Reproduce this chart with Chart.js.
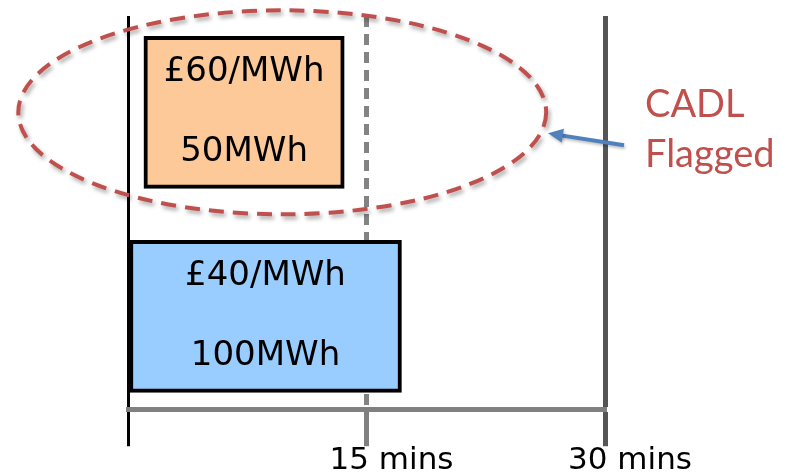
<!DOCTYPE html>
<html>
<head>
<meta charset="utf-8">
<script src="https://cdn.jsdelivr.net/npm/chart.js@4"></script>
<style>
  html, body { margin: 0; padding: 0; background: #fff; }
  #wrap { width: 788px; height: 475px; }
</style>
</head>
<body>
<div id="wrap"><canvas id="cadlChart" width="788" height="475"></canvas></div>
<script>
// offers in the stack, row 0 is the top one
const rows = [0, 1];
const prices = ["£60/MWh", "£40/MWh"];
const volumes = ["50MWh", "100MWh"];
// start / end of each offer along the time axis, in minutes
const startMins = [1, 0];
const endMins = [13.6, 17.2];
const fills = ["#FDC998", "#99CCFF"];

// time axis ticks
const tickMinutes = [0, 15, 30];
const tickLabels = ["", "15 mins", "30 mins"];

const noteLines = ["CADL", "Flagged"];

const offerText = {
  id: "offerText",
  afterDatasetsDraw(chart) {
    const ctx = chart.ctx;
    const meta = chart.getDatasetMeta(0);
    ctx.save();
    ctx.font = "34px 'DejaVu Sans'";
    ctx.fillStyle = "#000";
    ctx.textAlign = "center";
    ctx.textBaseline = "middle";
    meta.data.forEach((bar, i) => {
      const p = bar.getProps(["x", "y", "base", "height"], true);
      const cx = (p.x + p.base) / 2;
      const top = p.y - p.height / 2;
      const bottom = p.y + p.height / 2;
      ctx.fillText(prices[i], cx, top + 36);
      ctx.fillText(volumes[i], cx, bottom - 36);
    });
    ctx.restore();
  }
};

const cadlNote = {
  id: "cadlNote",
  afterDraw(chart) {
    const ctx = chart.ctx;
    const xs = chart.scales.x;
    const bar = chart.getDatasetMeta(0).data[0];
    const cy = bar.y;
    const left = xs.getPixelForValue(-6.9);
    const right = xs.getPixelForValue(26.3);
    const cx = (left + right) / 2;
    const rx = (right - left) / 2;
    const ry = 102;

    ctx.save();
    ctx.shadowColor = "rgba(0,0,0,0.35)";
    ctx.shadowBlur = 4;
    ctx.shadowOffsetX = 2;
    ctx.shadowOffsetY = 3;
    ctx.strokeStyle = "#C0504D";
    ctx.lineWidth = 4;
    ctx.setLineDash([15, 9]);
    ctx.beginPath();
    ctx.ellipse(cx, cy, rx, ry, 0, 0, Math.PI * 2);
    ctx.stroke();
    ctx.restore();

    // arrow pointing at the ellipse
    const axisRight = chart.chartArea.right;
    const tail = { x: axisRight + 19, y: cy + 33 };
    const tip = { x: axisRight - 57, y: cy + 21 };
    const ang = Math.atan2(tip.y - tail.y, tip.x - tail.x);
    ctx.save();
    ctx.shadowColor = "rgba(0,0,0,0.25)";
    ctx.shadowBlur = 3;
    ctx.shadowOffsetX = 1;
    ctx.shadowOffsetY = 2;
    ctx.strokeStyle = "#4F81BD";
    ctx.fillStyle = "#4F81BD";
    ctx.lineWidth = 4;
    ctx.beginPath();
    ctx.moveTo(tail.x, tail.y);
    ctx.lineTo(tip.x - Math.cos(ang) * 10, tip.y - Math.sin(ang) * 10);
    ctx.stroke();
    ctx.beginPath();
    ctx.moveTo(tip.x, tip.y);
    ctx.lineTo(tip.x - Math.cos(ang) * 15 - Math.sin(ang) * 7, tip.y - Math.sin(ang) * 15 + Math.cos(ang) * 7);
    ctx.lineTo(tip.x - Math.cos(ang) * 15 + Math.sin(ang) * 7, tip.y - Math.sin(ang) * 15 - Math.cos(ang) * 7);
    ctx.closePath();
    ctx.fill();
    ctx.restore();

    ctx.save();
    ctx.font = "38px Lato";
    ctx.fillStyle = "#C0504D";
    ctx.textAlign = "left";
    ctx.textBaseline = "alphabetic";
    ctx.fillText(noteLines[0], axisRight + 40, 117);
    ctx.fillText(noteLines[1], axisRight + 40, 167);
    ctx.restore();
  }
};

const lineColor = v => v === 0 ? "#000000" : v === 15 ? "rgba(100,100,100,0.8)" : "#555555";
const lineWidth = v => v === 0 ? 3 : 5;

new Chart(document.getElementById("cadlChart"), {
  type: "bar",
  data: {
    datasets: [{
      data: rows.map((r, i) => ({ x: [startMins[i], endMins[i]], y: r })),
      backgroundColor: fills,
      borderColor: "#000",
      borderWidth: 4,
      borderSkipped: false,
      barThickness: 152
    }]
  },
  options: {
    indexAxis: "y",
    responsive: false,
    animation: false,
    events: [],
    layout: { padding: { left: 128, right: 183, top: 16, bottom: 0 } },
    plugins: { legend: { display: false }, tooltip: { enabled: false } },
    scales: {
      y: {
        type: "linear", display: false, reverse: true, offset: false,
        grid: { offset: false }, min: -0.472, max: 1.455
      },
      x: {
        type: "linear",
        min: 0,
        max: 30,
        z: 1,
        afterBuildTicks: scale => { scale.ticks = tickMinutes.map(v => ({ value: v })); },
        grid: {
          color: c => lineColor(c.tick.value),
          tickColor: c => c.tick.value === 15 ? "#808080" : lineColor(c.tick.value),
          lineWidth: c => lineWidth(c.tick.value),
          tickWidth: c => lineWidth(c.tick.value),
          tickLength: 37,
          tickBorderDash: []
        },
        border: {
          display: true,
          color: "#808080",
          width: 5,
          dash: c => (c.tick && c.tick.value === 15) ? [11, 7] : []
        },
        ticks: {
          autoSkip: false,
          maxRotation: 0,
          padding: 4,
          labelOffset: 25,
          color: "#000",
          font: { family: "'DejaVu Sans'", size: 31, lineHeight: 0.67 },
          callback: (v) => tickLabels[tickMinutes.indexOf(v)] || ""
        }
      }
    }
  },
  plugins: [offerText, cadlNote]
});
</script>
</body>
</html>
